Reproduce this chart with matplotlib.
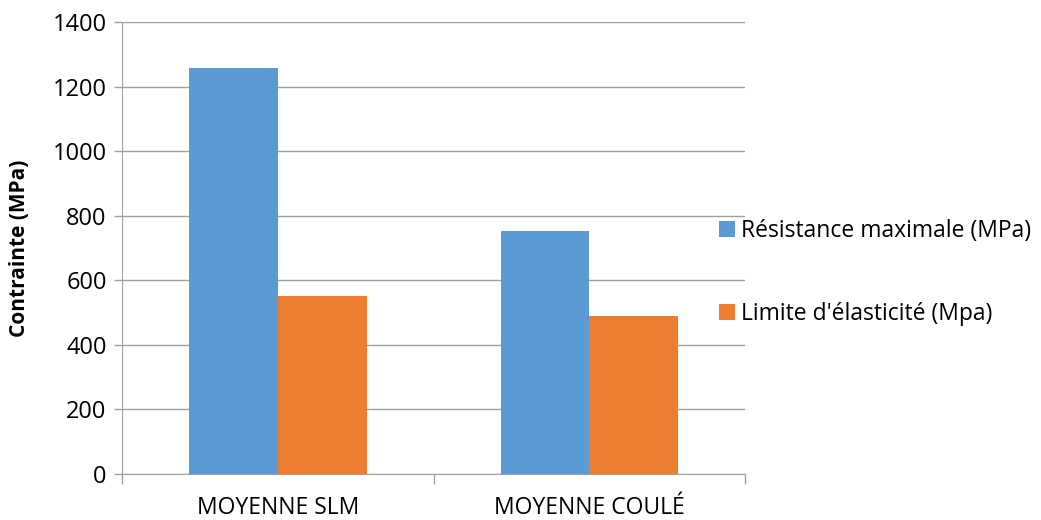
import numpy as np
import matplotlib.pyplot as plt

plt.rcParams['font.family'] = ['Open Sans', 'DejaVu Sans']

# data
categories = ["MOYENNE SLM", "MOYENNE COULÉ"]
resistance = [1258, 753]
limite = [551, 489]
series_names = ["Résistance maximale (MPa)", "Limite d'élasticité (Mpa)"]

fig = plt.figure(figsize=(10.41, 5.2), dpi=100)
ax = fig.add_axes([0.1172, 0.0885, 0.5985, 0.8692])

x = np.arange(len(categories))
w = 0.285
ax.bar(x - w/2, resistance, w, color='#5b9bd5', label=series_names[0], zorder=3)
ax.bar(x + w/2, limite, w, color='#ed7d31', label=series_names[1], zorder=3)

ax.set_xlim(-0.5, 1.5)
ax.set_ylim(0, 1400)
ax.set_yticks(np.arange(0, 1401, 200))
ax.tick_params(axis='y', labelsize=17, length=6, color='#a0a0a0', width=1, pad=5)
ax.yaxis.grid(True, color='#a0a0a0', lw=1, zorder=0)

# category ticks at boundaries, labels centred
ax.set_xticks([-0.5, 0.5, 1.5])
ax.set_xticklabels([])
ax.set_xticks(x, minor=True)
ax.set_xticklabels(categories, minor=True, fontsize=16.5)
ax.tick_params(axis='x', which='major', length=7, color='#a0a0a0', width=1)
ax.tick_params(axis='x', which='minor', length=0, pad=16)

for s in ['top', 'right']:
    ax.spines[s].set_visible(False)
for s in ['left', 'bottom']:
    ax.spines[s].set_color('#a0a0a0')

ax.set_ylabel("Contrainte (MPa)", fontsize=15, fontweight='bold', labelpad=16)

fig.legend(loc='center left', bbox_to_anchor=(0.6907, 0.476), frameon=False,
           fontsize=16.5, handlelength=0.7, handleheight=0.7, handletextpad=0.25,
           labelspacing=2.6, borderpad=0, borderaxespad=0)

fig.savefig('out.png', dpi=100)
